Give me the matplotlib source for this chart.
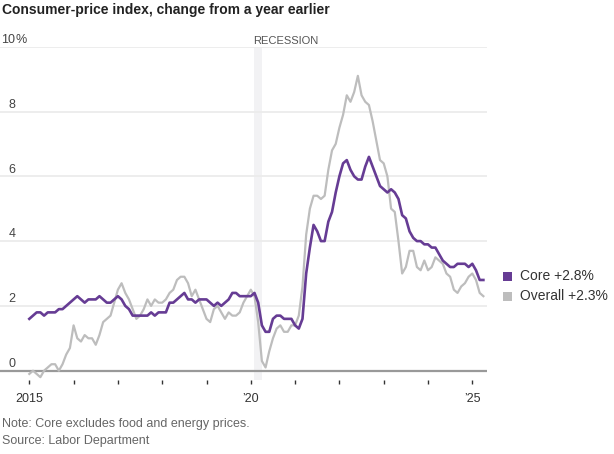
import numpy as np
import matplotlib.pyplot as plt
from matplotlib.patches import Rectangle

# monthly year-over-year change, Jan 2015 - Apr 2025
core = [1.6, 1.7, 1.8, 1.8, 1.7, 1.8, 1.8, 1.8, 1.9, 1.9, 2.0, 2.1,
        2.2, 2.3, 2.2, 2.1, 2.2, 2.2, 2.2, 2.3, 2.2, 2.1, 2.1, 2.2,
        2.3, 2.2, 2.0, 1.9, 1.7, 1.7, 1.7, 1.7, 1.7, 1.8, 1.7, 1.8,
        1.8, 1.8, 2.1, 2.1, 2.2, 2.3, 2.4, 2.2, 2.2, 2.1, 2.2, 2.2,
        2.2, 2.1, 2.0, 2.1, 2.0, 2.1, 2.2, 2.4, 2.4, 2.3, 2.3, 2.3,
        2.3, 2.4, 2.1, 1.4, 1.2, 1.2, 1.6, 1.7, 1.7, 1.6, 1.6, 1.6,
        1.4, 1.3, 1.6, 3.0, 3.8, 4.5, 4.3, 4.0, 4.0, 4.6, 4.9, 5.5,
        6.0, 6.4, 6.5, 6.2, 6.0, 5.9, 5.9, 6.3, 6.6, 6.3, 6.0, 5.7,
        5.6, 5.5, 5.6, 5.5, 5.3, 4.8, 4.7, 4.3, 4.1, 4.0, 4.0, 3.9,
        3.9, 3.8, 3.8, 3.6, 3.4, 3.3, 3.2, 3.2, 3.3, 3.3, 3.3, 3.2,
        3.3, 3.1, 2.8, 2.8]
overall = [-0.1, 0.0, -0.1, -0.2, 0.0, 0.1, 0.2, 0.2, 0.0, 0.2, 0.5, 0.7,
           1.4, 1.0, 0.9, 1.1, 1.0, 1.0, 0.8, 1.1, 1.5, 1.6, 1.7, 2.1,
           2.5, 2.7, 2.4, 2.2, 1.9, 1.6, 1.7, 1.9, 2.2, 2.0, 2.2, 2.1,
           2.1, 2.2, 2.4, 2.5, 2.8, 2.9, 2.9, 2.7, 2.3, 2.5, 2.2, 1.9,
           1.6, 1.5, 1.9, 2.0, 1.8, 1.6, 1.8, 1.7, 1.7, 1.8, 2.1, 2.3,
           2.5, 2.3, 1.5, 0.3, 0.1, 0.6, 1.0, 1.3, 1.4, 1.2, 1.2, 1.4,
           1.4, 1.7, 2.6, 4.2, 5.0, 5.4, 5.4, 5.3, 5.4, 6.2, 6.8, 7.0,
           7.5, 7.9, 8.5, 8.3, 8.6, 9.1, 8.5, 8.3, 8.2, 7.7, 7.1, 6.5,
           6.4, 6.0, 5.0, 4.9, 4.0, 3.0, 3.2, 3.7, 3.7, 3.2, 3.1, 3.4,
           3.1, 3.2, 3.5, 3.4, 3.3, 3.0, 2.9, 2.5, 2.4, 2.6, 2.7, 2.9,
           3.0, 2.8, 2.4, 2.3]
start_year = 2015
recession = (2020 + 1 / 12, 2020 + 3 / 12)  # Feb - Apr 2020
year_ticks = list(range(2015, 2026))
year_labels = ["2015", "", "", "", "", "\u201920", "", "", "", "", "\u201925"]
y_ticks = [0, 2, 4, 6, 8, 10]
legend_names = ["Core +2.8%", "Overall +2.3%"]

purple = "#663c94"
grey = "#bdbdbd"

plt.rcParams['font.family'] = ['Liberation Sans', 'DejaVu Sans']

W, H = 614, 454
fig = plt.figure(figsize=(W / 100, H / 100), dpi=100)

# axes placed in pixels: left 0, right 487, top 46.7 (10%), bottom 380
ax = fig.add_axes([0, 1 - 380 / H, 487 / W, (380 - 46.7) / H])
px_per_unit = (370.7 - 46.7) / 10
ax.set_ylim(-(380 - 370.7) / px_per_unit, 10)
x0 = 2015 - 29.3 / 44.3
ax.set_xlim(x0, x0 + 487 / 44.3)

for s in ax.spines.values():
    s.set_visible(False)

t = start_year + np.arange(len(core)) / 12

ax.axvspan(recession[0], recession[1], color="#f2f2f4", zorder=0, lw=0)
for v in y_ticks[1:]:
    ax.axhline(v, color="#ececec", lw=1.3, zorder=1)
ax.axhline(0, color="#999999", lw=1.6, zorder=2)

ax.plot(t, overall, color=grey, lw=1.6, zorder=3, solid_joinstyle="round")
ax.plot(t, core, color=purple, lw=1.9, zorder=4, solid_joinstyle="round")

ax.set_yticks([])
ax.set_xticks(year_ticks)
ax.set_xticklabels(year_labels, fontsize=9, color="#333333")
ax.tick_params(axis="x", length=3, width=1, color="#333333", pad=6)

# y labels sit just above their gridlines, numbers right-aligned
ytr = ax.get_yaxis_transform()
for v in y_ticks:
    ax.text(15.5 / 487, v + 0.02, str(v), transform=ytr, ha="right",
            va="bottom", fontsize=9, color="#444444")
ax.text(15.5 / 487, y_ticks[-1] + 0.02, "%", transform=ytr, ha="left",
        va="bottom", fontsize=9, color="#444444")

ax.text(recession[0] - 0.02, 10.02, "RECESSION", ha="left", va="bottom",
        fontsize=8, color="#555555")

fig.text(2 / W, 1 - 10 / H, "Consumer-price index, change from a year earlier",
         fontsize=10, fontweight="bold", color="#222222", ha="left", va="center")

# legend
for i, (name, col) in enumerate(zip(legend_names, [purple, grey])):
    yc = 276 + i * 20
    fig.add_artist(Rectangle((503 / W, 1 - (yc + 4.5) / H), 9 / W, 9 / H,
                             transform=fig.transFigure, color=col, lw=0))
    fig.text(520 / W, 1 - yc / H, name, fontsize=10, color="#333333",
             ha="left", va="center")

fig.text(2 / W, 1 - 424 / H, "Note: Core excludes food and energy prices.",
         fontsize=9, color="#666666", ha="left", va="center")
fig.text(2 / W, 1 - 441 / H, "Source: Labor Department",
         fontsize=9, color="#666666", ha="left", va="center")

fig.savefig("out.png", dpi=100)
